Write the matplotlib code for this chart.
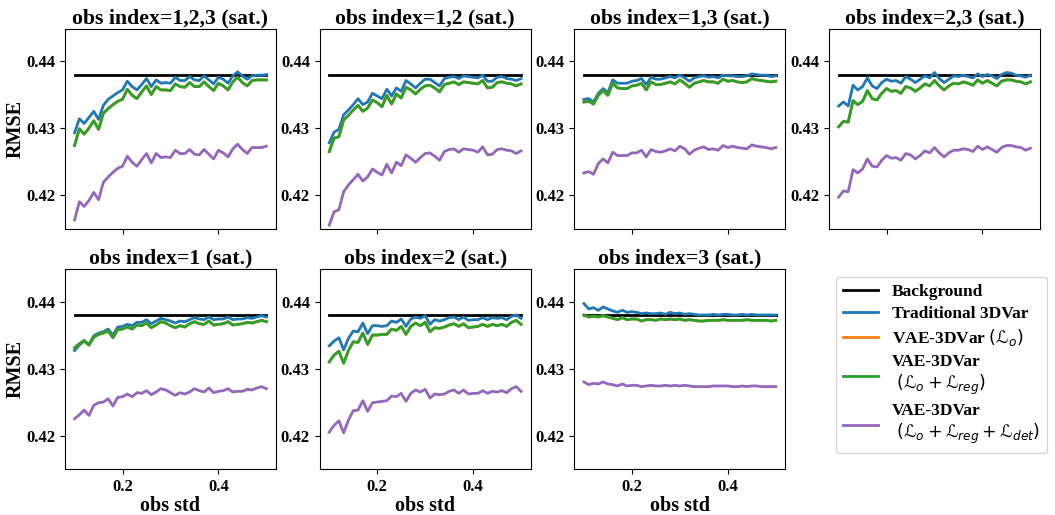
import numpy as np
import matplotlib
matplotlib.use("Agg")
import matplotlib.pyplot as plt

plt.rcParams['font.family'] = ['Liberation Serif', 'DejaVu Serif']
plt.rcParams['font.weight'] = 'bold'
plt.rcParams['mathtext.fontset'] = 'custom'
plt.rcParams['mathtext.cal'] = 'DejaVu Sans:normal'
plt.rcParams['mathtext.it'] = 'DejaVu Sans:italic:normal'
plt.rcParams['mathtext.rm'] = 'DejaVu Sans:normal'
plt.rcParams['mathtext.bf'] = 'DejaVu Sans:bold'

obs_std = [round(0.10 + 0.01 * i, 2) for i in range(41)]
background = 0.438

titles = ["obs index=1,2,3 (sat.)", "obs index=1,2 (sat.)", "obs index=1,3 (sat.)",
          "obs index=2,3 (sat.)", "obs index=1 (sat.)", "obs index=2 (sat.)",
          "obs index=3 (sat.)"]

trad_123 = [0.4293, 0.4314, 0.4307, 0.4316, 0.4325, 0.4313, 0.4334, 0.4343, 0.4348, 0.4353,
            0.4357, 0.4370, 0.4362, 0.4357, 0.4365, 0.4374, 0.4362, 0.4372, 0.4367, 0.4368,
            0.4367, 0.4376, 0.4371, 0.4371, 0.4377, 0.4372, 0.4371, 0.4378, 0.4372, 0.4366,
            0.4376, 0.4373, 0.4367, 0.4378, 0.4384, 0.4378, 0.4373, 0.4378, 0.4379, 0.4379, 0.4380]
reg_123 = [0.4274, 0.4299, 0.4291, 0.4300, 0.4311, 0.4298, 0.4322, 0.4329, 0.4335, 0.4340,
           0.4343, 0.4358, 0.4349, 0.4344, 0.4354, 0.4363, 0.4350, 0.4362, 0.4357, 0.4357,
           0.4356, 0.4366, 0.4362, 0.4361, 0.4368, 0.4362, 0.4362, 0.4369, 0.4362, 0.4356,
           0.4367, 0.4363, 0.4357, 0.4369, 0.4376, 0.4368, 0.4363, 0.4371, 0.4372, 0.4372, 0.4372]
det_123 = [0.4163, 0.4190, 0.4183, 0.4192, 0.4204, 0.4193, 0.4219, 0.4227, 0.4234, 0.4240,
           0.4243, 0.4258, 0.4249, 0.4243, 0.4253, 0.4262, 0.4248, 0.4262, 0.4256, 0.4257,
           0.4256, 0.4267, 0.4262, 0.4262, 0.4268, 0.4261, 0.4260, 0.4268, 0.4261, 0.4254,
           0.4267, 0.4263, 0.4257, 0.4269, 0.4276, 0.4268, 0.4262, 0.4271, 0.4271, 0.4271, 0.4273]

trad_12 = [0.4278, 0.4294, 0.4298, 0.4320, 0.4327, 0.4335, 0.4344, 0.4335, 0.4339, 0.4352,
           0.4348, 0.4344, 0.4358, 0.4348, 0.4360, 0.4355, 0.4371, 0.4366, 0.4360, 0.4367,
           0.4373, 0.4373, 0.4368, 0.4363, 0.4374, 0.4376, 0.4377, 0.4374, 0.4378, 0.4377,
           0.4376, 0.4375, 0.4379, 0.4370, 0.4370, 0.4376, 0.4377, 0.4374, 0.4373, 0.4371, 0.4374]
reg_12 = [0.4265, 0.4285, 0.4287, 0.4312, 0.4319, 0.4327, 0.4334, 0.4325, 0.4330, 0.4342,
          0.4338, 0.4332, 0.4349, 0.4336, 0.4351, 0.4345, 0.4361, 0.4357, 0.4351, 0.4358,
          0.4363, 0.4364, 0.4360, 0.4354, 0.4365, 0.4367, 0.4369, 0.4365, 0.4369, 0.4368,
          0.4367, 0.4366, 0.4371, 0.4360, 0.4361, 0.4368, 0.4369, 0.4367, 0.4366, 0.4363, 0.4366]
det_12 = [0.4155, 0.4175, 0.4178, 0.4205, 0.4215, 0.4223, 0.4231, 0.4221, 0.4227, 0.4239,
          0.4234, 0.4230, 0.4246, 0.4233, 0.4249, 0.4244, 0.4260, 0.4255, 0.4249, 0.4256,
          0.4262, 0.4263, 0.4258, 0.4252, 0.4265, 0.4268, 0.4269, 0.4264, 0.4269, 0.4268,
          0.4267, 0.4264, 0.4272, 0.4260, 0.4261, 0.4268, 0.4269, 0.4267, 0.4266, 0.4262, 0.4266]

trad_13 = [0.4343, 0.4344, 0.4339, 0.4352, 0.4359, 0.4353, 0.4372, 0.4367, 0.4367, 0.4367,
           0.4370, 0.4371, 0.4374, 0.4365, 0.4376, 0.4373, 0.4373, 0.4375, 0.4377, 0.4375,
           0.4379, 0.4375, 0.4370, 0.4375, 0.4377, 0.4378, 0.4376, 0.4377, 0.4375, 0.4379,
           0.4378, 0.4378, 0.4377, 0.4377, 0.4378, 0.4381, 0.4380, 0.4379, 0.4379, 0.4377, 0.4378]
reg_13 = [0.4339, 0.4340, 0.4336, 0.4349, 0.4356, 0.4349, 0.4367, 0.4360, 0.4359, 0.4359,
          0.4363, 0.4364, 0.4367, 0.4357, 0.4369, 0.4365, 0.4365, 0.4367, 0.4369, 0.4366,
          0.4372, 0.4367, 0.4361, 0.4367, 0.4369, 0.4371, 0.4369, 0.4369, 0.4367, 0.4373,
          0.4370, 0.4371, 0.4369, 0.4368, 0.4369, 0.4374, 0.4372, 0.4371, 0.4370, 0.4369, 0.4370]
det_13 = [0.4233, 0.4235, 0.4231, 0.4247, 0.4254, 0.4248, 0.4264, 0.4259, 0.4259, 0.4259,
          0.4263, 0.4263, 0.4267, 0.4257, 0.4268, 0.4265, 0.4264, 0.4266, 0.4269, 0.4266,
          0.4273, 0.4269, 0.4261, 0.4267, 0.4270, 0.4272, 0.4268, 0.4269, 0.4267, 0.4274,
          0.4271, 0.4273, 0.4271, 0.4270, 0.4269, 0.4275, 0.4273, 0.4272, 0.4271, 0.4269, 0.4271]

trad_23 = [0.4333, 0.4339, 0.4333, 0.4364, 0.4357, 0.4362, 0.4375, 0.4363, 0.4359, 0.4368,
           0.4373, 0.4370, 0.4371, 0.4367, 0.4377, 0.4373, 0.4368, 0.4373, 0.4378, 0.4375,
           0.4383, 0.4374, 0.4368, 0.4373, 0.4378, 0.4377, 0.4379, 0.4377, 0.4375, 0.4381,
           0.4377, 0.4380, 0.4378, 0.4374, 0.4380, 0.4383, 0.4382, 0.4379, 0.4378, 0.4376, 0.4379]
reg_23 = [0.4302, 0.4310, 0.4309, 0.4341, 0.4335, 0.4340, 0.4356, 0.4344, 0.4342, 0.4352,
          0.4359, 0.4355, 0.4356, 0.4352, 0.4362, 0.4360, 0.4355, 0.4360, 0.4366, 0.4363,
          0.4371, 0.4363, 0.4357, 0.4363, 0.4367, 0.4366, 0.4369, 0.4367, 0.4364, 0.4372,
          0.4367, 0.4371, 0.4367, 0.4363, 0.4370, 0.4372, 0.4372, 0.4370, 0.4369, 0.4366, 0.4369]
det_23 = [0.4197, 0.4206, 0.4205, 0.4238, 0.4233, 0.4239, 0.4254, 0.4243, 0.4242, 0.4252,
          0.4259, 0.4255, 0.4256, 0.4252, 0.4262, 0.4260, 0.4254, 0.4259, 0.4266, 0.4263,
          0.4271, 0.4263, 0.4257, 0.4263, 0.4267, 0.4267, 0.4269, 0.4268, 0.4265, 0.4273,
          0.4268, 0.4272, 0.4268, 0.4264, 0.4271, 0.4274, 0.4274, 0.4272, 0.4271, 0.4267, 0.4270]

trad_1 = [0.4327, 0.4335, 0.4341, 0.4336, 0.4349, 0.4353, 0.4355, 0.4359, 0.4350, 0.4362,
          0.4363, 0.4366, 0.4364, 0.4369, 0.4369, 0.4373, 0.4367, 0.4371, 0.4375, 0.4373,
          0.4371, 0.4368, 0.4371, 0.4370, 0.4373, 0.4376, 0.4374, 0.4373, 0.4377, 0.4373,
          0.4374, 0.4374, 0.4377, 0.4373, 0.4374, 0.4374, 0.4376, 0.4375, 0.4377, 0.4379, 0.4377]
reg_1 = [0.4331, 0.4337, 0.4342, 0.4335, 0.4347, 0.4351, 0.4353, 0.4356, 0.4346, 0.4358,
         0.4359, 0.4362, 0.4359, 0.4365, 0.4364, 0.4368, 0.4361, 0.4365, 0.4370, 0.4368,
         0.4364, 0.4361, 0.4364, 0.4362, 0.4367, 0.4370, 0.4367, 0.4366, 0.4371, 0.4365,
         0.4366, 0.4367, 0.4370, 0.4365, 0.4366, 0.4367, 0.4369, 0.4368, 0.4370, 0.4372, 0.4370]
det_1 = [0.4225, 0.4231, 0.4238, 0.4230, 0.4245, 0.4249, 0.4250, 0.4255, 0.4244, 0.4257,
         0.4258, 0.4262, 0.4258, 0.4264, 0.4263, 0.4267, 0.4261, 0.4265, 0.4270, 0.4268,
         0.4264, 0.4260, 0.4264, 0.4262, 0.4265, 0.4270, 0.4267, 0.4265, 0.4271, 0.4264,
         0.4266, 0.4267, 0.4270, 0.4265, 0.4266, 0.4266, 0.4269, 0.4268, 0.4271, 0.4273, 0.4270]

trad_2 = [0.4334, 0.4341, 0.4346, 0.4328, 0.4345, 0.4356, 0.4355, 0.4368, 0.4352, 0.4364,
          0.4364, 0.4363, 0.4364, 0.4371, 0.4369, 0.4374, 0.4363, 0.4374, 0.4377, 0.4375,
          0.4379, 0.4366, 0.4373, 0.4371, 0.4373, 0.4376, 0.4377, 0.4373, 0.4377, 0.4372,
          0.4373, 0.4373, 0.4376, 0.4373, 0.4376, 0.4375, 0.4376, 0.4373, 0.4378, 0.4380, 0.4375]
reg_2 = [0.4310, 0.4320, 0.4326, 0.4308, 0.4327, 0.4340, 0.4339, 0.4353, 0.4336, 0.4350,
         0.4350, 0.4351, 0.4351, 0.4359, 0.4357, 0.4363, 0.4351, 0.4363, 0.4368, 0.4364,
         0.4369, 0.4355, 0.4361, 0.4360, 0.4362, 0.4365, 0.4367, 0.4363, 0.4367, 0.4361,
         0.4362, 0.4363, 0.4366, 0.4363, 0.4366, 0.4364, 0.4366, 0.4363, 0.4369, 0.4372, 0.4366]
det_2 = [0.4205, 0.4215, 0.4222, 0.4204, 0.4223, 0.4237, 0.4238, 0.4252, 0.4236, 0.4249,
         0.4250, 0.4251, 0.4252, 0.4259, 0.4258, 0.4263, 0.4251, 0.4263, 0.4268, 0.4265,
         0.4269, 0.4256, 0.4262, 0.4261, 0.4262, 0.4266, 0.4268, 0.4263, 0.4268, 0.4262,
         0.4263, 0.4263, 0.4267, 0.4263, 0.4266, 0.4265, 0.4267, 0.4264, 0.4270, 0.4273, 0.4266]

trad_3 = [0.4397, 0.4389, 0.4391, 0.4387, 0.4392, 0.4389, 0.4386, 0.4384, 0.4387, 0.4384,
          0.4385, 0.4384, 0.4382, 0.4383, 0.4382, 0.4382, 0.4383, 0.4381, 0.4384, 0.4382,
          0.4383, 0.4381, 0.4382, 0.4381, 0.4380, 0.4380, 0.4380, 0.4381, 0.4380, 0.4381,
          0.4381, 0.4380, 0.4380, 0.4381, 0.4380, 0.4381, 0.4380, 0.4380, 0.4380, 0.4380, 0.4380]
reg_3 = [0.4380, 0.4377, 0.4378, 0.4377, 0.4379, 0.4377, 0.4375, 0.4373, 0.4376, 0.4373,
         0.4374, 0.4374, 0.4371, 0.4373, 0.4373, 0.4372, 0.4374, 0.4373, 0.4374, 0.4373,
         0.4374, 0.4372, 0.4373, 0.4372, 0.4371, 0.4371, 0.4372, 0.4372, 0.4372, 0.4373,
         0.4372, 0.4372, 0.4372, 0.4372, 0.4373, 0.4372, 0.4372, 0.4372, 0.4372, 0.4371, 0.4372]
det_3 = [0.4280, 0.4276, 0.4278, 0.4277, 0.4280, 0.4277, 0.4276, 0.4274, 0.4277, 0.4274,
         0.4275, 0.4275, 0.4273, 0.4274, 0.4275, 0.4274, 0.4274, 0.4275, 0.4274, 0.4275,
         0.4274, 0.4275, 0.4274, 0.4273, 0.4273, 0.4273, 0.4273, 0.4274, 0.4274, 0.4274,
         0.4274, 0.4273, 0.4273, 0.4274, 0.4273, 0.4274, 0.4274, 0.4273, 0.4273, 0.4273, 0.4273]

trad_all = [trad_123, trad_12, trad_13, trad_23, trad_1, trad_2, trad_3]
reg_all = [reg_123, reg_12, reg_13, reg_23, reg_1, reg_2, reg_3]
# VAE-3DVar (L_o) coincides with the (L_o + L_reg) curve in the picture
lo_all = reg_all
det_all = [det_123, det_12, det_13, det_23, det_1, det_2, det_3]

labels = ["Background", "Traditional 3DVar", r"VAE-3DVar $(\mathrm{ℒ}_o)$",
          "VAE-3DVar\n" + r" $(\mathrm{ℒ}_o + \mathrm{ℒ}_{reg})$",
          "VAE-3DVar\n" + r" $(\mathrm{ℒ}_o + \mathrm{ℒ}_{reg} + \mathrm{ℒ}_{det})$"]
colors = ["black", "#1f77b4", "#ff7f0e", "#2ca02c", "#9467bd"]

fig, axes = plt.subplots(2, 4, figsize=(10.55, 5.15), dpi=100, sharex=True, sharey=True)
fig.subplots_adjust(left=0.0616, right=0.9858, top=0.9437, bottom=0.0893,
                    wspace=0.207, hspace=0.205)
axs = axes.ravel()
lw = 2.0
for k in range(7):
    ax = axs[k]
    ax.plot(obs_std, [background] * len(obs_std), color=colors[0], lw=lw, label=labels[0])
    ax.plot(obs_std, trad_all[k], color=colors[1], lw=lw, label=labels[1])
    ax.plot(obs_std, lo_all[k], color=colors[2], lw=lw, label=labels[2])
    ax.plot(obs_std, reg_all[k], color=colors[3], lw=lw, label=labels[3])
    ax.plot(obs_std, det_all[k], color=colors[4], lw=lw, label=labels[4])
    ax.set_title(titles[k], fontsize=15.7, fontweight='bold', pad=4)
    ax.tick_params(labelsize=12, labelleft=True)
    for t in ax.get_yticklabels() + ax.get_xticklabels():
        t.set_fontweight('bold')
    if k in (0, 4):
        ax.set_ylabel("RMSE", fontsize=14.5, fontweight='bold', labelpad=0)
    if k >= 4:
        ax.set_xlabel("obs std", fontsize=14.5, fontweight='bold', labelpad=1)

ax0 = axs[0]
ax0.set_ylim(0.415, 0.4448)
ax0.set_yticks([0.42, 0.43, 0.44])
ax0.set_xticks([0.2, 0.4])
axs[3].tick_params(labelbottom=False)
axs[7].axis('off')

handles, labs = axs[0].get_legend_handles_labels()
fig.legend(handles, labs, loc='upper left', bbox_to_anchor=(0.7924, 0.4621),
           bbox_transform=fig.transFigure, prop={'weight': 'bold', 'size': 12.5},
           handlelength=2.0, labelspacing=0.32, borderpad=0.4, borderaxespad=0.0)
fig.savefig("out.png", dpi=100)
